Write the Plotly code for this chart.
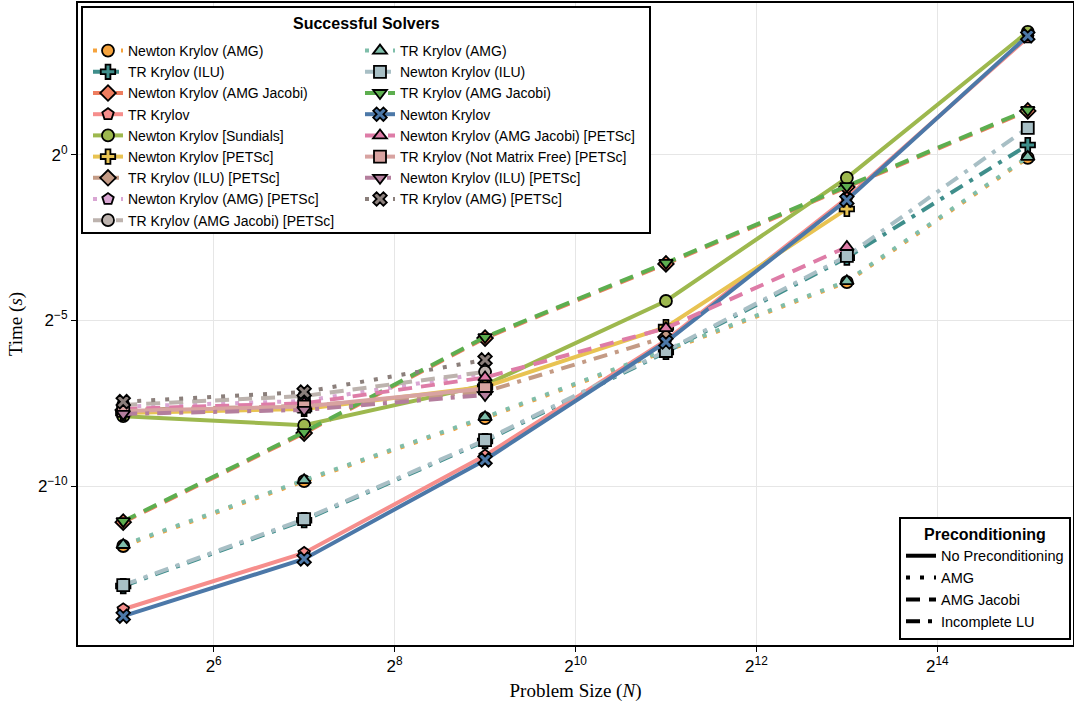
import math
import plotly.graph_objects as go

# ---------------- data ----------------
problem_size = [32, 128, 512, 2048, 8192, 32768]

# solver names (legend order)
names_col1 = [
    "Newton Krylov (AMG)",
    "TR Krylov (ILU)",
    "Newton Krylov (AMG Jacobi)",
    "TR Krylov",
    "Newton Krylov [Sundials]",
    "Newton Krylov [PETSc]",
    "TR Krylov (ILU) [PETSc]",
    "Newton Krylov (AMG) [PETSc]",
    "TR Krylov (AMG Jacobi) [PETSc]",
]
names_col2 = [
    "TR Krylov (AMG)",
    "Newton Krylov (ILU)",
    "TR Krylov (AMG Jacobi)",
    "Newton Krylov",
    "Newton Krylov (AMG Jacobi) [PETSc]",
    "TR Krylov (Not Matrix Free) [PETSc]",
    "Newton Krylov (ILU) [PETSc]",
    "TR Krylov (AMG) [PETSc]",
]

# time in seconds, stored as log2 exponents (time = 2**value)
log2_nk_amg = [-11.81, -9.85, -7.95, -5.92, -3.84, -0.09]
log2_tr_ilu = [-13.02, -11.03, -8.64, -5.95, -3.10, 0.30]
log2_nk_amgj = [-11.09, -8.40, -5.53, -3.29, -0.97, 1.33]
log2_tr = [-13.72, -12.02, -9.08, -5.60, -1.30, 3.55]
log2_nk_sundials = [-7.89, -8.16, -6.95, -4.41, -0.69, 3.72]
log2_nk_petsc = [-7.79, -7.67, -7.00, -5.20, -1.63]
log2_tr_ilu_petsc = [-7.70, -7.58, -7.15, -5.50]
log2_nk_amg_petsc = [-7.60, -7.43, -6.59]
log2_tr_amgj_petsc = [-7.55, -7.28, -6.55]
log2_tr_amg = [-11.78, -9.82, -7.92, -5.89, -3.81, -0.06]
log2_nk_ilu = [-12.99, -11.00, -8.61, -5.92, -3.05, 0.82]
log2_tr_amgj = [-11.06, -8.37, -5.50, -3.26, -0.94, 1.36]
log2_nk = [-13.93, -12.20, -9.21, -5.65, -1.36, 3.60]
log2_nk_amgj_petsc = [-7.67, -7.50, -6.72, -5.23, -2.78]
log2_tr_nmf_petsc = [-7.73, -7.60, -7.05]
log2_nk_ilu_petsc = [-7.82, -7.70, -7.25]
log2_tr_amg_petsc = [-7.45, -7.16, -6.19]

series_col1 = [log2_nk_amg, log2_tr_ilu, log2_nk_amgj, log2_tr, log2_nk_sundials,
               log2_nk_petsc, log2_tr_ilu_petsc, log2_nk_amg_petsc, log2_tr_amgj_petsc]
series_col2 = [log2_tr_amg, log2_nk_ilu, log2_tr_amgj, log2_nk, log2_nk_amgj_petsc,
               log2_tr_nmf_petsc, log2_nk_ilu_petsc, log2_tr_amg_petsc]

precond_col1 = ["AMG", "ILU", "AMGJ", "None", "None", "None", "ILU", "AMG", "AMGJ"]
precond_col2 = ["AMG", "ILU", "AMGJ", "None", "AMGJ", "None", "ILU", "AMG"]

colors_col1 = ["#F5A33D", "#3F8E8B", "#EE7D5F", "#F68E8C", "#9DB84E",
               "#E8C352", "#C49B85", "#D9A6D3", "#BDB3AE"]
colors_col2 = ["#7FBEAA", "#A8BFC5", "#5DAE4F", "#4C78A8", "#DE7CA7",
               "#D8A3A1", "#B47E9D", "#8B7F7B"]

symbols_col1 = ["circle", "cross", "diamond", "pentagon", "circle",
                "cross", "diamond", "pentagon", "circle"]
symbols_col2 = ["triangle-up", "square", "triangle-down", "x", "triangle-up",
                "square", "triangle-down", "x"]

x_tick_exp = [6, 8, 10, 12, 14]
y_tick_exp = [0, -5, -10]

precond_labels = ["No Preconditioning", "AMG", "AMG Jacobi", "Incomplete LU"]
precond_keys = ["None", "AMG", "AMGJ", "ILU"]

# ---------------- styles ----------------
DASH = {
    "None": "solid",
    "AMG": "4px,10px",
    "AMGJ": "14px,9px",
    "ILU": "14px,8px,4px,8px",
}

SANS = "Liberation Sans, Arial, Helvetica, sans-serif"
SERIF = "Liberation Serif, Times New Roman, serif"

fig = go.Figure()


def add_series(name, vals, color, symbol, prec, legend):
    xs = problem_size[:len(vals)]
    ys = [2.0 ** v for v in vals]
    fig.add_trace(go.Scatter(
        x=xs, y=ys, name=name, mode="lines+markers",
        line=dict(color=color, width=4, dash=DASH[prec]),
        marker=dict(symbol=symbol, size=12, color=color,
                    line=dict(color="black", width=1.8)),
        legend=legend,
    ))


for n, v, c, s, p in zip(names_col1, series_col1, colors_col1, symbols_col1, precond_col1):
    add_series(n, v, c, s, p, "legend")
for n, v, c, s, p in zip(names_col2, series_col2, colors_col2, symbols_col2, precond_col2):
    add_series(n, v, c, s, p, "legend2")

for lab, key in zip(precond_labels, precond_keys):
    fig.add_trace(go.Scatter(
        x=[None], y=[None], name=lab, mode="lines",
        line=dict(color="black", width=4, dash=DASH[key]),
        legend="legend3",
    ))

L2 = math.log10(2)
W, H = 1074, 704
ML, MR, MT, MB = 78, 1, 3, 59
PW, PH = W - ML - MR, H - MT - MB


def px2x(px):
    return (px - ML) / PW


def px2y(py):
    return (H - MB - py) / PH


fig.update_layout(
    width=W, height=H,
    margin=dict(l=ML, r=MR, t=MT, b=MB, autoexpand=False),
    paper_bgcolor="white", plot_bgcolor="white",
    font=dict(family=SANS, color="black"),
    xaxis=dict(
        type="log",
        range=[4.5 * L2, 15.5 * L2],
        tickvals=[2 ** e for e in x_tick_exp],
        ticktext=[f"2<sup>{e}</sup>" for e in x_tick_exp],
        tickfont=dict(size=17, family=SANS),
        showgrid=True, gridcolor="#e6e6e6", gridwidth=1,
        showline=True, linecolor="black", linewidth=2, mirror=True,
        ticks="outside", ticklen=5, tickcolor="black", tickwidth=1,
        zeroline=False,
        title=dict(text="Problem Size (<i>N</i>)", font=dict(family=SERIF, size=19), standoff=8),
    ),
    yaxis=dict(
        type="log",
        range=[-14.8 * L2, 4.59 * L2],
        tickvals=[2.0 ** e for e in y_tick_exp],
        ticktext=[f"2<sup>{str(e).replace('-', '−')}</sup>" for e in y_tick_exp],
        tickfont=dict(size=17, family=SANS),
        showgrid=True, gridcolor="#e6e6e6", gridwidth=1,
        showline=True, linecolor="black", linewidth=2, mirror=True,
        ticks="outside", ticklen=5, tickcolor="black", tickwidth=1,
        zeroline=False,
        title=dict(text="Time (<i>s</i>)", font=dict(family=SERIF, size=19), standoff=10),
    ),
    legend=dict(
        x=px2x(88), y=px2y(35), xanchor="left", yanchor="top",
        bgcolor="rgba(0,0,0,0)", borderwidth=0,
        font=dict(size=14, family=SANS), tracegroupgap=0,
    ),
    legend2=dict(
        x=px2x(360), y=px2y(35), xanchor="left", yanchor="top",
        bgcolor="rgba(0,0,0,0)", borderwidth=0,
        font=dict(size=14, family=SANS), tracegroupgap=0,
    ),
    legend3=dict(
        x=px2x(1071), y=px2y(640), xanchor="right", yanchor="bottom",
        bgcolor="white", bordercolor="black", borderwidth=2,
        font=dict(size=14.5, family=SANS),
        title=dict(text="<b>Preconditioning</b>", side="top center",
                   font=dict(size=16, family=SANS)),
    ),
    shapes=[dict(
        type="rect", xref="paper", yref="paper",
        x0=px2x(82), x1=px2x(650), y0=px2y(233), y1=px2y(7),
        line=dict(color="black", width=2), fillcolor="white", layer="above",
    )],
    annotations=[dict(
        text="<b>Successful Solvers</b>", xref="paper", yref="paper",
        x=px2x(366), y=px2y(24), xanchor="center", yanchor="middle",
        showarrow=False, font=dict(size=16, family=SANS),
    )],
)

fig.write_html("out.html")
